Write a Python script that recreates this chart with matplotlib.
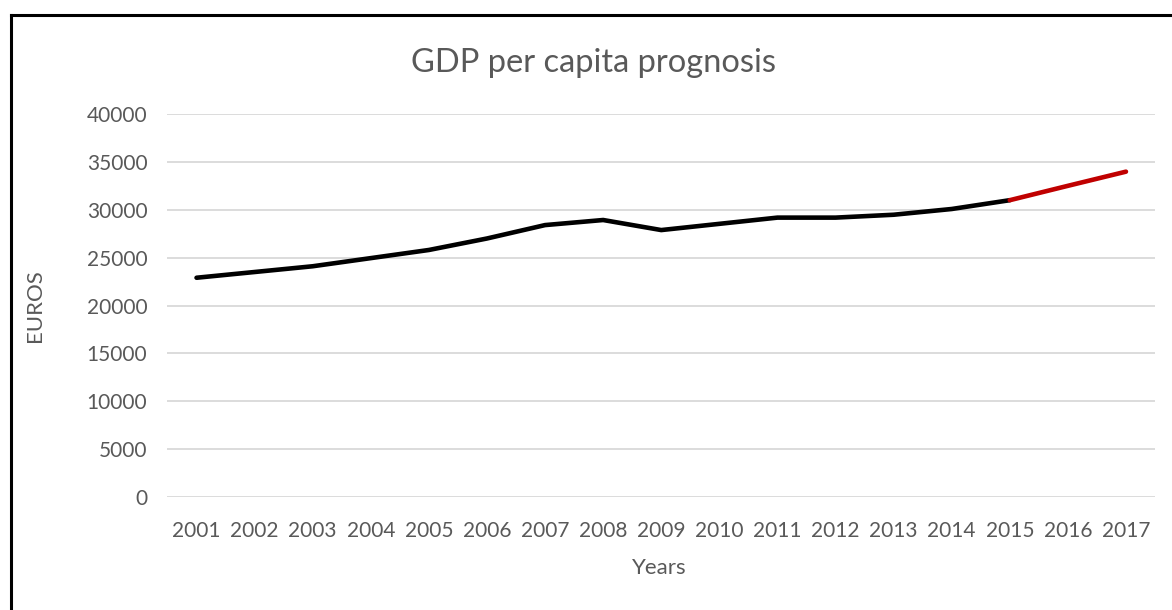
import numpy as np
import matplotlib
matplotlib.use("Agg")
import matplotlib.pyplot as plt
from matplotlib.lines import Line2D

plt.rcParams["font.family"] = ["Lato", "DejaVu Sans"]

years = ["2001", "2002", "2003", "2004", "2005", "2006", "2007", "2008", "2009",
         "2010", "2011", "2012", "2013", "2014", "2015", "2016", "2017"]
gdp = [22900, 23500, 24100, 24950, 25800, 27000, 28400, 28930, 27880,
       28530, 29180, 29180, 29480, 30080, 31000, 32500, 33980]
forecast_from = "2015"

yticks = [0, 5000, 10000, 15000, 20000, 25000, 30000, 35000, 40000]

TEXT = "#595959"
GRID = "#D9D9D9"

fig = plt.figure(figsize=(11.72, 6.10), dpi=100)
ax = fig.add_axes([0.1429, 0.1852, 0.9855 - 0.1429, 0.8131 - 0.1852])

x = np.arange(len(years))
k = years.index(forecast_from)
ax.plot(x[:k + 1], gdp[:k + 1], color="black", lw=3.3, solid_capstyle="round",
        solid_joinstyle="round", zorder=3)
ax.plot(x[k:], gdp[k:], color="#C00000", lw=3.3, solid_capstyle="round",
        solid_joinstyle="round", zorder=3)

ax.set_xlim(-0.5, len(years) - 0.5)
ax.set_ylim(0, 40000)
ax.set_xticks(x)
ax.set_xticklabels(years)
ax.set_yticks(yticks)
ax.set_yticklabels([str(v) for v in yticks])
ax.tick_params(length=0, labelsize=15, labelcolor=TEXT)
ax.tick_params(axis="x", pad=17)
ax.tick_params(axis="y", pad=14.5)
ax.grid(axis="y", color=GRID, lw=1.3)
ax.set_axisbelow(True)
for s in ax.spines.values():
    s.set_visible(False)

ax.set_xlabel("Years", fontsize=16, color=TEXT, va="center")
ax.set_ylabel("EUROS", fontsize=16, color=TEXT, va="center")
ax.xaxis.set_label_coords(0.498, -0.1854)
ax.yaxis.set_label_coords(-0.1342, 0.5)
fig.text(0.506, 0.897, "GDP per capita prognosis", fontsize=23.5, color=TEXT,
         ha="center", va="center")

# frame around the chart (left and top edges)
W, H = 1172, 610
fig.add_artist(Line2D([11 / W, 11 / W], [0, 1 - 15 / H], color="black", lw=2.2,
                      transform=fig.transFigure, solid_capstyle="projecting"))
fig.add_artist(Line2D([11 / W, 1], [1 - 15 / H, 1 - 15 / H], color="black", lw=2.2,
                      transform=fig.transFigure, solid_capstyle="projecting"))

fig.savefig("out.png", dpi=100)
